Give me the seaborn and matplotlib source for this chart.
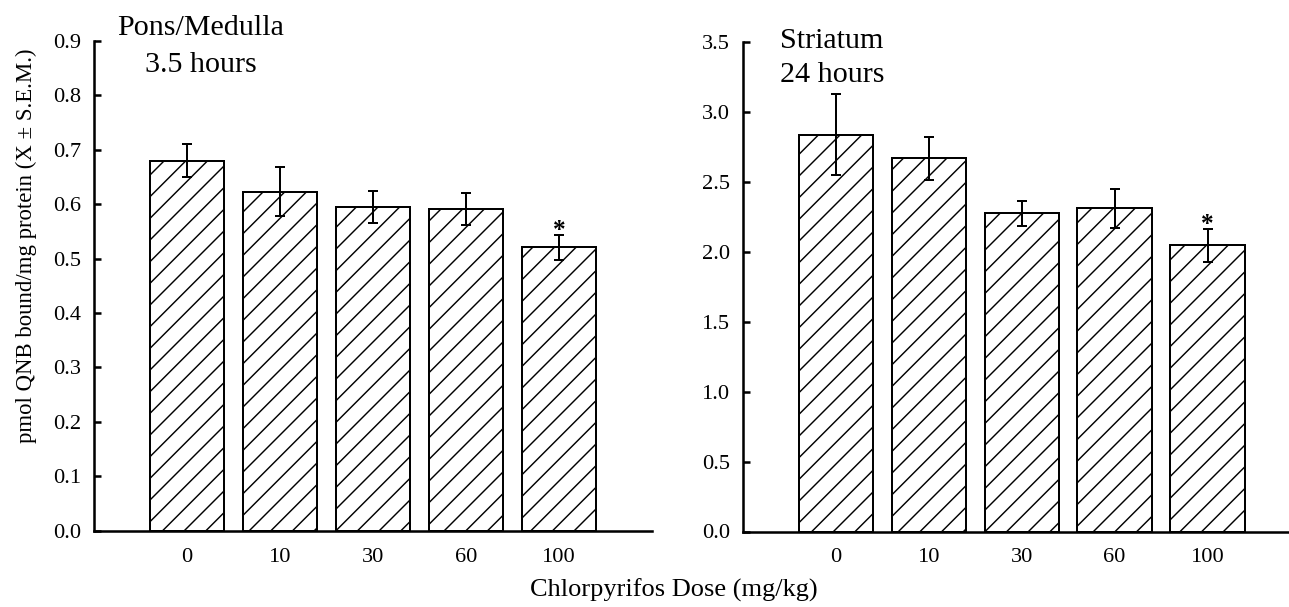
import numpy as np
import pandas as pd
import matplotlib
matplotlib.use("Agg")
import matplotlib.pyplot as plt
import seaborn as sns

# ---- data ----
doses = ["0", "10", "30", "60", "100"]
pons_mean = [0.680, 0.623, 0.595, 0.591, 0.521]
pons_sem = [0.030, 0.045, 0.030, 0.029, 0.023]
stri_mean = [2.836, 2.669, 2.275, 2.312, 2.046]
stri_sem = [0.290, 0.155, 0.090, 0.140, 0.120]
pons_sig = [False, False, False, False, True]
stri_sig = [False, False, False, False, True]
pons_ticks = [0.0, 0.1, 0.2, 0.3, 0.4, 0.5, 0.6, 0.7, 0.8, 0.9]
stri_ticks = [0.0, 0.5, 1.0, 1.5, 2.0, 2.5, 3.0, 3.5]

sns.set_theme(style="ticks")
plt.rcParams["font.family"] = ["Liberation Serif", "DejaVu Serif"]
plt.rcParams["hatch.linewidth"] = 0.8
plt.rcParams["hatch.color"] = "black"
plt.rcParams["text.color"] = "black"
plt.rcParams["axes.labelcolor"] = "black"
plt.rcParams["xtick.color"] = "black"
plt.rcParams["ytick.color"] = "black"

DPI = 130
W, H = 1289, 607


def pt(px):
    return px * 72.0 / DPI


fig = plt.figure(figsize=(W / DPI, H / DPI), dpi=DPI)
ax1 = fig.add_axes([94 / W, 1 - 530.7 / H, 558 / W, (530.7 - 41) / H])
ax2 = fig.add_axes([743 / W, 1 - 531.5 / H, (W - 743) / W, (531.5 - 42) / H])


def panel(ax, means, sems, sig, ticks, ymax, xmax):
    df = pd.DataFrame({"dose": doses, "value": means})
    sns.barplot(data=df, x="dose", y="value", order=doses, color="white",
                edgecolor="black", linewidth=1.1, width=0.8, saturation=1,
                errorbar=None, ax=ax, zorder=2)
    for p in ax.patches:
        p.set_hatch("//")
        p.set_edgecolor("black")
    x = np.arange(len(doses))
    ax.errorbar(x, means, yerr=sems, fmt="none", ecolor="black",
                elinewidth=1.1, capsize=3.0, capthick=1.1, zorder=3)
    for xi, m, s, g in zip(x, means, sems, sig):
        if g:
            ax.annotate("*", xy=(xi, m + s), xytext=(0, -1.5),
                        textcoords="offset points", ha="center",
                        va="baseline", fontsize=14, fontweight="bold")
    ax.set_xlim(-1, xmax)
    ax.set_ylim(0, ymax)
    ax.set_yticks(ticks)
    ax.set_yticklabels([f"{t:.1f}" for t in ticks])
    ax.set_xlabel("")
    ax.set_ylabel("")
    sns.despine(ax=ax)
    for sp in ("left", "bottom"):
        ax.spines[sp].set_linewidth(1.4)
        ax.spines[sp].set_color("black")
    ax.tick_params(axis="y", direction="in", length=pt(7), width=1.4,
                   pad=pt(13), labelsize=12.4, colors="black")
    ax.tick_params(axis="x", length=0, pad=pt(17), labelsize=12.4,
                   colors="black")


panel(ax1, pons_mean, pons_sem, pons_sig, pons_ticks, 0.9, 5.0)
panel(ax2, stri_mean, stri_sem, stri_sig, stri_ticks, 3.5,
      -1 + (W - 743) / 92.9)

# panel titles
fig.text(200.5 / W, 1 - 35 / H, "Pons/Medulla", ha="center", va="baseline",
         fontsize=16.6)
fig.text(200.5 / W, 1 - 72 / H, "3.5 hours", ha="center", va="baseline",
         fontsize=16.6)
fig.text(780 / W, 1 - 48 / H, "Striatum", ha="left", va="baseline",
         fontsize=16.6)
fig.text(780 / W, 1 - 82 / H, "24 hours", ha="left", va="baseline",
         fontsize=16.6)

# axis labels
fig.text(26 / W, 1 - 246 / H, "pmol QNB bound/mg protein (X ± S.E.M.)",
         rotation=90, ha="center", va="center", fontsize=12.6)
fig.text(673.5 / W, 1 - 590 / H, "Chlorpyrifos Dose (mg/kg)",
         ha="center", va="center", fontsize=14.6)

fig.savefig("out.png", dpi=DPI)
